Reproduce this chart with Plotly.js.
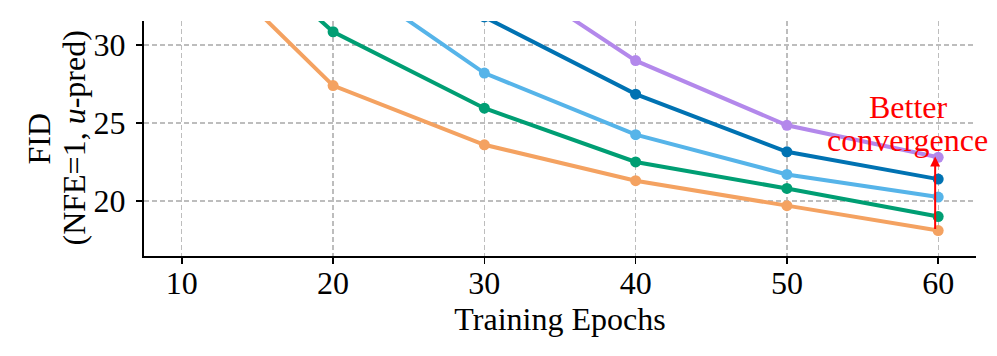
<!DOCTYPE html>
<html>
<head>
<meta charset="utf-8">
<script src="https://cdn.plot.ly/plotly-3.0.1.min.js"></script>
<style>
  html, body { margin: 0; padding: 0; background: #fff; }
  #chart { width: 997px; height: 356px; }
</style>
</head>
<body>
<div id="chart"></div>
<script>
// training epochs on the x axis
const epochs = [10, 20, 30, 40, 50, 60];

// FID (NFE=1, u-pred) per run (points above the top are estimates)
const fidOrange = [36.9, 27.4, 23.6, 21.3, 19.7, 18.1];
const fidGreen = [39.5, 30.85, 25.95, 22.5, 20.8, 19.0];
const fidLightBlue = [45.0, 34.9, 28.2, 24.25, 21.7, 20.25];
const fidDarkBlue = [48.0, 38.0, 31.8, 26.85, 23.15, 21.4];
const fidPurple = [52.0, 42.0, 35.4, 29.0, 24.85, 22.8];

const seriesColors = ['#F4A261', '#009E73', '#56B4E9', '#0072B2', '#B388EB'];
const seriesValues = [fidOrange, fidGreen, fidLightBlue, fidDarkBlue, fidPurple];

const FONT = 'Liberation Serif, Times New Roman, serif';
const FS = 32;

const traces = seriesValues.map((vals, i) => ({
    x: epochs,
    y: vals,
    type: 'scatter',
    mode: 'lines+markers',
    line: { color: seriesColors[i], width: 4 },
    marker: { color: seriesColors[i], size: 11 },
    showlegend: false,
    hoverinfo: 'x+y'
}));

const axisCommon = {
    showline: true,
    linecolor: '#000',
    linewidth: 2,
    mirror: false,
    ticks: 'outside',
    ticklen: 6,
    tickwidth: 1.5,
    tickcolor: '#000',
    showgrid: true,
    gridcolor: '#bdbdbd',
    gridwidth: 1.2,
    griddash: '5px,3px',
    zeroline: false,
    tickfont: { family: FONT, size: FS, color: '#000' }
};

const last = epochs.length - 1;

const layout = {
    width: 997,
    height: 356,
    margin: { l: 144, r: 21, t: 21, b: 100 },
    paper_bgcolor: '#fff',
    plot_bgcolor: '#fff',
    font: { family: FONT, size: FS, color: '#000' },
    xaxis: Object.assign({}, axisCommon, {
        range: [7.5, 62.5],
        tickvals: [10, 20, 30, 40, 50, 60],
        ticklabelstandoff: -8,
        title: { text: 'Training Epochs', font: { family: FONT, size: FS }, standoff: 6 }
    }),
    yaxis: Object.assign({}, axisCommon, {
        range: [16.47, 31.54],
        tickvals: [20, 25, 30],
        ticklabelstandoff: 4
    }),
    annotations: [
        // y-axis title, two lines placed as in the figure
        {
            x: -0.1274, y: 0.5, xref: 'paper', yref: 'paper',
            text: 'FID', textangle: -90, showarrow: false,
            xanchor: 'center', yanchor: 'middle',
            font: { family: FONT, size: FS, color: '#000' }
        },
        {
            x: -0.0853, y: 0.5, xref: 'paper', yref: 'paper',
            text: '(NFE=1, <i>u</i>-pred)', textangle: -90, showarrow: false,
            xanchor: 'center', yanchor: 'middle',
            font: { family: FONT, size: FS, color: '#000' }
        },
        {
            x: epochs[last] - 0.2, y: fidPurple[last] + 0.05,
            ax: epochs[last] - 0.2, ay: fidOrange[last],
            xref: 'x', yref: 'y', axref: 'x', ayref: 'y',
            text: '',
            showarrow: true,
            arrowhead: 2,
            arrowsize: 1,
            arrowwidth: 2,
            arrowcolor: '#ff0000'
        },
        {
            x: 58.05, y: 26.03, xref: 'x', yref: 'y',
            text: 'Better', showarrow: false,
            font: { family: FONT, size: FS, color: '#ff0000' }
        },
        {
            x: 58.0, y: 23.91, xref: 'x', yref: 'y',
            text: 'convergence', showarrow: false,
            font: { family: FONT, size: FS, color: '#ff0000' }
        }
    ]
};

Plotly.newPlot('chart', traces, layout, { displayModeBar: false, staticPlot: true });
</script>
</body>
</html>
